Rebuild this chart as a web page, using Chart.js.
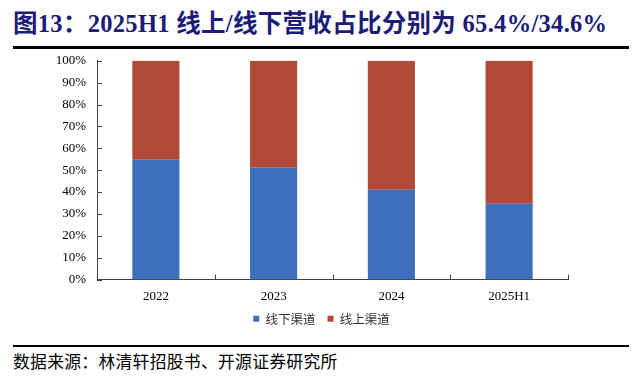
<!DOCTYPE html>
<html>
<head>
<meta charset="utf-8">
<script src="https://cdn.jsdelivr.net/npm/chart.js@4.4.0/dist/chart.umd.min.js"></script>
<style>
html,body{margin:0;padding:0;background:#fff;width:643px;height:384px;overflow:hidden;}
#title{position:absolute;left:13px;top:4px;font-family:"Liberation Serif","Noto Sans CJK SC",serif;font-weight:bold;font-size:24.5px;color:#1c1c78;white-space:nowrap;letter-spacing:0.3px;}
.rule{position:absolute;left:13px;width:616px;height:2.5px;background:#000;}
#src{position:absolute;left:13px;top:349px;font-family:"Noto Sans CJK SC",sans-serif;font-size:16.8px;color:#000;white-space:nowrap;letter-spacing:0.3px;}
#wrap{position:absolute;left:0;top:42px;width:643px;height:293px;}
</style>
</head>
<body>
<div id="title">图13：2025H1 线上/线下营收占比分别为 65.4%/34.6%</div>
<div id="wrap"><canvas id="c"></canvas></div>
<div class="rule" style="top:46px"></div>
<div class="rule" style="top:344.5px"></div>
<div id="src">数据来源：林清轩招股书、开源证券研究所</div>
<script>
const categories = ["2022", "2023", "2024", "2025H1"];
const offlineShare = [54.8, 51.1, 41.0, 34.6];
const onlineShare = [45.2, 48.9, 59.0, 65.4];
const seriesNames = ["线下渠道", "线上渠道"];
const yTicks = [0, 10, 20, 30, 40, 50, 60, 70, 80, 90, 100];

const innerTicks = {
  id: 'innerTicks',
  afterDraw(chart) {
    const ctx = chart.ctx;
    const x = chart.scales.x, y = chart.scales.y;
    ctx.save();
    ctx.strokeStyle = '#404040';
    ctx.lineWidth = 1;
    ctx.beginPath();
    yTicks.forEach(v => {
      const py = Math.round(y.getPixelForValue(v)) + 0.5;
      ctx.moveTo(x.left, py); ctx.lineTo(x.left + 5, py);
    });
    for (let i = 0; i <= categories.length; i++) {
      const px = Math.round(x.getPixelForValue(i - 0.5)) + 0.5;
      ctx.moveTo(px, y.bottom); ctx.lineTo(px, y.bottom - 5);
    }
    ctx.stroke();
    ctx.restore();
  }
};

new Chart(document.getElementById('c'), {
  type: 'bar',
  data: {
    labels: categories,
    datasets: [
      { label: seriesNames[0], data: offlineShare, backgroundColor: '#3e6fba', borderWidth: 0 },
      { label: seriesNames[1], data: onlineShare, backgroundColor: '#b04a37', borderWidth: 0 }
    ]
  },
  options: {
    responsive: true,
    maintainAspectRatio: false,
    animation: false,
    devicePixelRatio: 1,
    layout: { padding: { left: 0, right: 0, top: 0, bottom: 0 } },
    datasets: { bar: { categoryPercentage: 1, barPercentage: 0.4 } },
    plugins: {
      legend: {
        position: 'bottom',
        labels: {
          boxWidth: 6, boxHeight: 6, padding: 12,
          color: '#333',
          font: { family: '"Noto Sans CJK SC", sans-serif', size: 12.5 }
        }
      },
      tooltip: { enabled: false }
    },
    scales: {
      x: {
        stacked: true,
        grid: { display: false, drawTicks: false },
        border: { display: true, color: '#404040', width: 1 },
        ticks: { color: '#000', padding: 9, font: { family: '"Liberation Serif", serif', size: 13 } },
        afterFit(s) { s.height = 21; }
      },
      y: {
        stacked: true,
        min: 0, max: 100,
        afterBuildTicks(s) { s.ticks = yTicks.map(v => ({ value: v })); },
        grid: { display: false, drawTicks: false },
        border: { display: true, color: '#404040', width: 1 },
        ticks: {
          color: '#000', padding: 11,
          font: { family: '"Liberation Serif", serif', size: 13 },
          callback: v => v + '%'
        },
        afterFit(s) { s.width = 97; }
      },
      yRight: {
        position: 'right',
        display: true,
        grid: { display: false, drawTicks: false },
        border: { display: false },
        ticks: { display: false },
        afterFit(s) { s.width = 75; }
      }
    }
  },
  plugins: [innerTicks]
});
</script>
</body>
</html>
